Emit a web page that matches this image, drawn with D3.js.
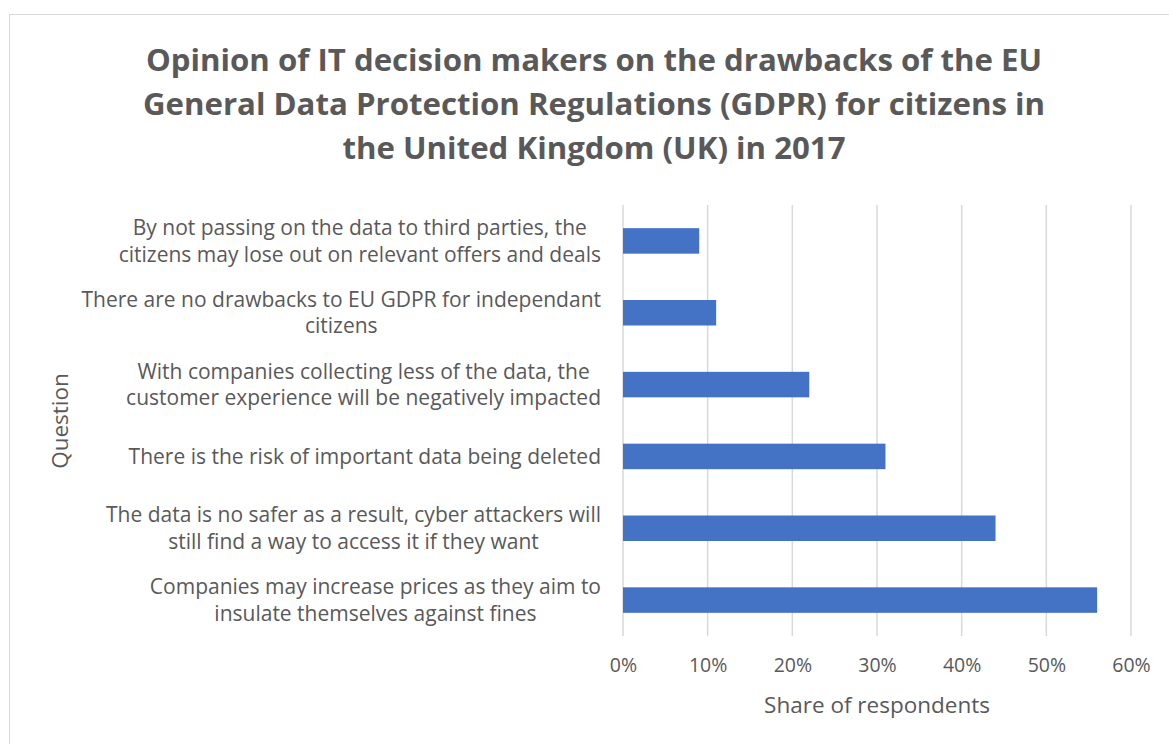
<!DOCTYPE html>
<html>
<head>
<meta charset="utf-8">
<script src="https://cdn.jsdelivr.net/npm/d3@7"></script>
<style>
  html, body { margin: 0; padding: 0; background: #fff; }
  svg { display: block; }
  text { font-family: "Open Sans", "Noto Sans", sans-serif; fill: #595959; }
</style>
</head>
<body>
<svg id="chart" width="1169" height="744"></svg>
<script>
// Survey answers (top to bottom) and share of respondents (%)
const questions = [
  ["By not passing on the data to third parties, the", "citizens may lose out on relevant offers and deals"],
  ["There are no drawbacks to EU GDPR for independant", "citizens"],
  ["With companies collecting less of the data, the", "customer experience will be negatively impacted"],
  ["There is the risk of important data being deleted"],
  ["The data is no safer as a result, cyber attackers will", "still find a way to access it if they want"],
  ["Companies may increase prices as they aim to", "insulate themselves against fines"]
];
const shares = [9, 11, 22, 31, 44, 56];
const xTicks = [0, 10, 20, 30, 40, 50, 60];
const titleLines = [
  "Opinion of IT decision makers on the drawbacks of the EU",
  "General Data Protection Regulations (GDPR) for citizens in",
  "the United Kingdom (UK) in 2017"
];
const xTitle = "Share of respondents";
const yTitle = "Question";

const svg = d3.select("#chart");

// chart frame
svg.append("rect")
  .attr("x", 9.5).attr("y", 14.5)
  .attr("width", 1170).attr("height", 740)
  .attr("fill", "#fff").attr("stroke", "#d9d9d9").attr("stroke-width", 1);

const plot = { left: 623, right: 1131, top: 205, bottom: 636 };

const x = d3.scaleLinear().domain([0, 60]).range([plot.left, plot.right]);
const y = d3.scaleBand()
  .domain(d3.range(questions.length))
  .range([plot.top, plot.bottom])
  .paddingInner(0.645).paddingOuter(0.3225);

// title
const title = svg.append("text")
  .attr("text-anchor", "middle")
  .style("font-size", "31.2px").style("font-weight", "700");
titleLines.forEach((t, i) => {
  title.append("tspan").attr("x", 594).attr("y", 71 + i * 44).text(t);
});

// vertical gridlines
svg.append("g")
  .selectAll("line")
  .data(xTicks)
  .join("line")
  .attr("x1", d => x(d)).attr("x2", d => x(d))
  .attr("y1", plot.top).attr("y2", plot.bottom)
  .attr("stroke", "#d9d9d9").attr("stroke-width", 1.5);

// x axis tick labels
const xAxis = d3.axisBottom(x)
  .tickValues(xTicks)
  .tickFormat(d => d + "%")
  .tickSize(0).tickPadding(0);
const gx = svg.append("g")
  .attr("transform", `translate(0,${plot.bottom + 22})`)
  .call(xAxis);
gx.select(".domain").remove();
gx.selectAll("text")
  .attr("dy", "0.71em")
  .style("font-size", "19.5px")
  .style("font-family", null)
  .attr("fill", "#595959");

// bars
svg.append("g")
  .selectAll("rect")
  .data(shares)
  .join("rect")
  .attr("x", x(0))
  .attr("y", (d, i) => y(i))
  .attr("width", d => x(d) - x(0))
  .attr("height", y.bandwidth())
  .attr("fill", "#4472c4");

// category labels: each block right-aligned, lines centred within the block
const labelSize = 21;
const lineGap = 26.5;
const labels = svg.append("g");
questions.forEach((lines, i) => {
  const g = labels.append("g");
  const cy = y(i) + y.bandwidth() / 2;
  const texts = lines.map((t, j) => g.append("text")
    .style("font-size", labelSize + "px")
    .attr("text-anchor", "middle")
    .attr("dy", "0.35em")
    .attr("y", cy + (j - (lines.length - 1) / 2) * lineGap)
    .text(t));
  const w = d3.max(texts, t => t.node().getComputedTextLength());
  texts.forEach(t => t.attr("x", 601 - w / 2));
});

// axis titles
svg.append("text")
  .attr("x", 877).attr("y", 705)
  .attr("text-anchor", "middle").attr("dy", "0.35em")
  .style("font-size", "22.5px")
  .text(xTitle);

svg.append("text")
  .attr("transform", "translate(60,421) rotate(-90)")
  .attr("text-anchor", "middle").attr("dy", "0.35em")
  .style("font-size", "22.5px")
  .text(yTitle);
</script>
</body>
</html>
